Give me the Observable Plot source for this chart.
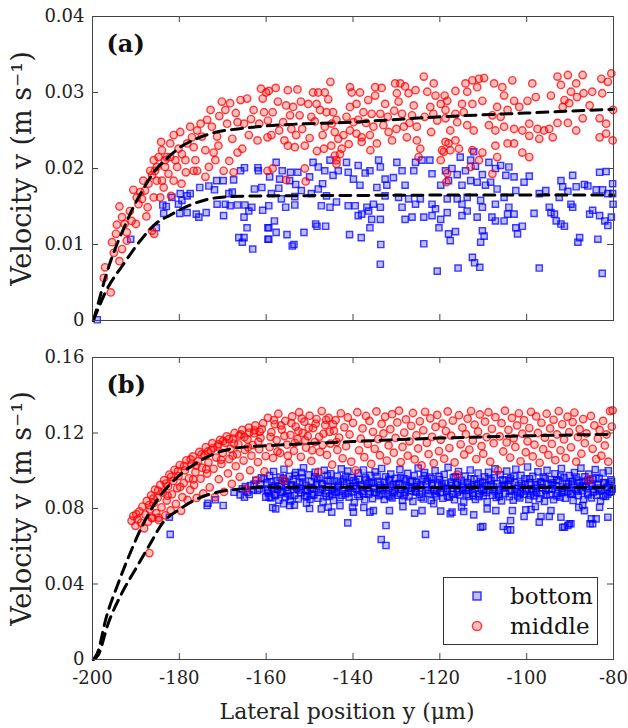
<!DOCTYPE html>
<html><head><meta charset="utf-8">
<script src="https://cdn.jsdelivr.net/npm/d3@7"></script>
<script src="https://cdn.jsdelivr.net/npm/@observablehq/plot@0.6"></script>
<style>
body{margin:0;background:#fff;}
#wrap{position:relative;width:628px;height:728px;}
#wrap > svg{position:absolute;left:0;}
</style></head><body><div id="wrap"></div>
<script>
// ---- ticks ----
const xTicks = [-200,-180,-160,-140,-120,-100,-80];
const yTicksA = [0,0.01,0.02,0.03,0.04];
const yTicksB = [0,0.04,0.08,0.12,0.16];
const seriesNames = ["bottom","middle"];

// ---- panel (a): flat [x (um), v (1e-3 m/s)] pairs ----
const aBottom = [
-198.9,0.1,-191.2,10.7,-185.3,12.2,-183.6,14.1,-183.0,15.0,-183.8,15.2,-181.7,16.2,-179.8,16.7,-179.4,15.8,-178.2,16.4,-177.5,16.7,-180.2,15.3,-179.9,14.1,-178.2,14.2,-176.1,14.0,-175.5,13.6,-175.3,17.5,-173.8,14.2,-173.2,17.7,-171.9,17.2,-171.4,18.4,-171.3,15.3,-169.9,18.4,-169.8,13.8,-169.4,15.3,-168.6,16.7,-167.8,16.9,-167.5,18.5,-168.3,15.1,-166.6,15.2,-166.3,10.9,-165.5,10.3,-165.1,10.9,-165.0,20.1,-165.9,19.7,-164.9,15.2,-164.4,12.2,-165.1,13.6,-163.1,9.4,-164.0,14.4,-163.3,14.9,-162.7,17.3,-161.9,20.1,-161.8,19.7,-161.0,17.5,-160.8,14.5,-159.6,12.2,-159.6,10.7,
-157.7,20.8,-156.3,19.7,-154.4,19.5,-152.7,19.5,-159.2,18.9,-156.9,18.6,-154.6,18.4,-153.2,17.9,-157.1,17.4,-151.9,17.1,-150.0,18.9,-149.2,20.8,-148.0,20.2,-147.0,18.0,-146.5,19.7,-145.3,21.1,-144.6,19.1,-143.4,19.7,-141.5,20.8,-141.1,19.5,-139.9,18.6,-138.8,20.4,-138.4,17.8,-137.2,19.4,-136.1,19.7,-134.1,21.1,-133.7,20.2,-132.6,18.6,-132.2,17.8,-134.5,17.5,-130.7,18.8,-129.9,20.8,-128.7,19.7,-128.0,17.8,-126.0,19.7,-125.6,20.8,-124.1,21.1,-122.3,21.1,-121.8,19.3,-119.8,17.8,
-158.8,16.7,-156.5,16.0,-153.4,16.3,-149.6,16.7,-148.0,17.3,-146.1,16.4,-147.3,15.1,-145.3,14.9,-143.8,15.6,-141.1,15.1,-139.5,15.1,-136.8,14.9,-135.3,15.3,-133.7,14.9,-132.6,16.4,-129.5,16.2,-128.7,14.9,-127.2,16.0,-125.6,15.3,-124.5,16.0,-121.8,15.3,-121.0,14.7,-159.4,15.1,-153.4,15.2,-155.5,14.9,-138.8,13.8,-138.0,14.0,-136.4,14.4,-135.7,13.3,-136.1,12.2,-133.7,13.3,-128.0,13.3,-126.4,13.6,-123.7,13.6,-121.8,13.8,-119.8,13.3,
-158.1,13.1,-159.4,12.2,-157.7,11.6,-159.4,10.7,-155.2,11.3,-151.3,11.6,-148.6,12.7,-148.3,12.4,-146.3,12.4,-140.8,11.3,-138.1,10.9,-133.6,10.0,-154.0,9.8,-153.6,10.0,-133.7,7.4,-123.7,10.1,-120.2,12.2,-120.6,6.5,
-118.7,19.7,-117.2,20.0,-115.3,21.5,-112.2,22.2,-112.9,21.1,-114.1,19.7,-116.0,19.2,-111.8,20.3,-110.2,19.2,-108.7,20.8,-107.2,20.0,-106.0,20.4,-104.1,20.2,-104.8,19.1,-102.9,18.9,-99.4,19.0,-100.6,18.2,-118.0,18.4,-114.9,17.8,-112.9,18.4,-111.4,18.2,-109.5,17.8,-108.3,18.2,-106.8,17.3,-102.5,17.1,
-118.3,16.0,-116.0,16.0,-113.7,16.2,-110.6,15.8,-107.2,15.3,-105.2,16.2,-104.1,14.9,-114.9,15.3,-110.2,14.9,-118.3,14.2,-114.9,13.8,-113.7,14.4,-111.4,13.6,-108.0,13.6,-107.2,13.1,-105.2,13.1,-104.4,14.0,-102.9,14.0,-102.5,12.2,-101.0,12.4,-102.1,11.4,-118.0,11.4,-116.4,11.7,-117.6,10.5,-110.2,11.8,-109.8,11.1,-110.6,10.3,-112.5,8.3,-112.0,7.6,-110.8,7.0,-115.8,6.9,-97.1,6.9,
-98.3,14.1,-97.1,16.7,-95.6,17.1,-94.8,14.9,-94.4,14.2,-93.6,14.0,-93.2,13.1,-92.1,12.7,-91.3,12.4,-92.5,16.2,-92.1,18.4,-91.7,17.6,-90.5,17.0,-89.8,15.3,-89.4,19.1,-88.6,17.6,-89.4,14.9,-88.2,10.3,-87.8,10.9,-86.7,17.9,-85.9,17.7,-85.5,14.0,-84.8,14.5,-84.0,17.2,-83.6,10.7,-83.2,19.5,-81.7,19.6,-82.5,17.2,-81.3,16.7,-83.2,13.8,-82.0,13.1,-81.3,12.5,-80.5,13.6,-80.1,15.3,-80.2,16.7,-80.2,18.0,-82.6,6.2
];
const aMiddle = [
-195.8,3.7,-197.4,5.6,-197.1,7.0,-195.5,10.3,-194.6,11.4,-195.1,8.9,-193.8,7.8,-193.2,9.4,-194.4,12.6,-193.2,13.6,-193.8,15.0,-192.6,12.7,-192.1,11.6,-191.4,14.4,-191.0,13.1,-190.0,12.7,-190.6,17.2,-189.0,16.9,-189.4,15.3,-188.3,18.4,-187.6,13.7,-187.3,14.9,-186.3,11.8,-185.8,11.4,-186.7,19.7,-185.9,21.1,-185.2,20.2,-184.8,21.5,-184.2,23.5,-184.0,18.4,-184.4,16.2,-183.6,17.5,-182.9,21.5,-182.1,23.3,-181.3,24.4,-180.5,20.2,-181.3,18.4,-181.9,16.4,-179.8,24.8,-179.4,21.9,-178.2,23.3,-177.5,25.5,-176.7,22.8,-176.3,21.1,-175.9,19.7,-175.1,25.9,-174.8,24.2,-174.0,22.4,-173.6,26.4,-173.2,20.2,-172.8,27.7,-172.5,25.5,-172.1,22.1,-171.7,21.1,-174.0,18.9,-171.3,24.2,-170.2,28.8,-169.8,19.7,-169.4,27.7,-169.0,25.9,-168.3,28.6,-167.8,23.9,-167.5,19.5,-166.6,26.1,-166.6,22.1,-165.9,29.0,-165.5,22.6,-165.1,25.9,-164.4,29.2,-164.0,24.4,-162.9,27.7,-162.0,23.7,-161.6,25.9,-161.2,30.5,-160.8,29.2,-160.5,27.4,-160.0,30.0,-159.7,19.7,-159.7,24.1,
-187.9,17.1,-187.1,18.0,-186.3,19.1,-185.6,19.7,-183.3,20.2,-182.5,19.3,-185.2,18.4,-180.2,22.6,-178.6,21.1,-177.1,24.1,-175.9,25.0,-176.7,19.7,-184.0,22.4,-183.3,21.1,-182.1,21.5,-180.9,21.1,-189.8,16.2,-188.6,16.0,-185.9,16.2,-192.1,10.5,-170.8,26.9,-167.0,27.3,-163.5,26.5,-171.0,23.0,-168.5,21.0,-178.5,19.5,-179.5,18.0,
-159.4,30.2,-155.0,30.3,-152.8,30.4,-157.3,28.8,-155.4,28.3,-153.8,28.1,-152.3,27.0,-158.5,27.4,-159.6,26.3,-156.1,26.1,-154.2,25.2,-158.8,24.4,-155.8,23.7,-155.0,23.0,-153.4,22.8,-151.1,23.0,-153.1,24.4,-151.7,25.2,-150.3,28.5,-149.2,30.0,-148.4,28.5,-148.0,30.0,-146.5,30.0,-145.7,29.1,-145.2,31.4,-149.6,26.8,-147.6,27.7,-146.1,27.4,-144.6,27.4,-146.5,25.5,-144.9,25.9,-143.8,26.4,-144.2,24.8,-143.4,23.9,-142.2,24.4,-142.6,22.6,-143.0,21.9,-144.2,21.7,-143.8,21.1,-148.3,22.3,-146.7,22.6,-140.7,30.7,-140.3,30.0,-139.2,28.5,-138.4,30.0,-140.7,28.1,-141.5,26.8,-139.9,26.1,-138.8,26.4,-137.6,27.4,-140.7,25.0,-139.2,24.6,-138.0,24.1,-138.0,23.5,-136.1,24.4,-135.3,25.5,-135.7,27.2,-134.9,30.7,-133.4,30.6,-134.5,23.3,-134.9,29.6,-133.7,27.2,-133.0,25.7,-132.6,28.5,-131.8,24.8,-131.0,23.7,-130.3,31.2,-129.1,31.2,-129.9,29.9,-129.5,28.8,-128.7,27.2,-128.3,25.5,-127.6,24.1,-127.2,29.9,-126.0,28.3,-125.6,30.3,-126.4,27.0,-125.3,25.5,-125.3,23.7,-124.5,22.6,-124.9,21.5,-123.7,32.1,-122.9,30.1,-122.2,28.1,-121.4,31.2,-121.0,29.6,-120.6,26.3,-119.8,28.5,-119.5,22.4,-119.8,21.1,-118.7,23.5,-158.5,20.0,-155.4,18.5,-150.9,18.3,-151.1,20.0,-143.8,20.6,
-157.0,25.0,-150.0,24.0,-147.0,24.4,-145.0,23.0,-141.0,23.2,-137.0,26.0,-136.5,29.0,-132.0,26.8,-130.5,27.6,-128.0,30.8,-127.0,26.0,-123.5,26.8,-122.0,24.8,-121.5,27.2,-136.0,22.4,-130.0,25.2,-154.5,27.0,-152.0,28.8,-157.8,30.6,-148.8,26.2,
-118.9,29.6,-118.3,28.9,-116.4,30.2,-114.1,31.2,-112.5,31.6,-111.4,30.7,-109.8,31.9,-113.7,30.1,-111.0,31.8,-114.9,28.5,-112.5,28.5,-110.2,28.9,-118.7,27.7,-118.7,26.6,-116.4,27.2,-114.5,27.4,-116.0,26.1,-113.7,25.7,-112.2,25.0,-117.6,25.0,-116.4,23.7,-118.0,23.3,-115.6,22.6,-117.6,22.4,-119.1,22.2,-112.5,22.4,-110.2,22.1,-111.0,21.1,-112.9,20.2,-106.8,21.5,-107.5,31.2,-105.6,30.7,-103.3,31.6,-105.2,29.6,-102.9,28.9,-106.8,28.1,-107.9,27.0,-106.0,26.8,-104.4,27.7,-101.7,28.1,-99.8,28.9,-98.7,31.2,-97.9,29.4,-108.7,25.7,-107.2,25.0,-105.2,25.5,-102.9,25.2,-101.0,25.0,-99.4,25.9,-97.5,25.2,-96.0,25.0,-94.8,25.2,-107.2,23.0,-104.4,23.3,-102.9,23.3,-99.4,24.3,-97.1,23.9,-94.0,24.1,-101.0,22.1,-99.4,21.5,-94.4,29.6,-92.9,32.1,-92.1,31.0,-90.5,32.3,-89.8,30.1,-88.6,31.2,-87.1,32.3,-91.7,28.1,-90.2,28.6,-88.4,29.4,-86.9,29.9,-84.9,30.1,-82.6,29.9,-92.9,26.0,-90.5,26.0,-88.6,25.0,-87.1,26.6,-85.5,28.3,-83.2,26.6,-81.7,25.9,-83.2,24.1,-81.7,24.6,-80.2,23.7,-82.8,31.8,-81.3,31.4,-80.5,32.5,-80.1,27.7,-91.3,29.0,-118.5,18.2,-107.9,19.3,-118.3,19.4
];
// fitted curves (dashed)
const aBottomFit = [-199.8,0,-196.5,4.3,-193,7.3,-189,10.5,-185.5,12.7,-182,13.9,-177.5,15.2,-173,16.0,-168,16.3,-160,16.4,-140,16.45,-120,16.5,-100,16.5,-80,16.5];
const aMiddleFit = [-199.8,0,-198.9,1.8,-196.8,6.1,-194.8,9.4,-192.9,12.0,-190.6,14.9,-188.3,17.3,-185.9,19.5,-182.9,21.3,-179.8,22.8,-176.1,23.9,-171.4,24.8,-166.6,25.2,-160,25.6,-140,26.1,-120,26.8,-100,27.3,-80,27.8];

// ---- panel (b) ----
const bBottom = [
-182.3,75.4,-182.1,66.3,-173.6,81.6,-173.4,82.8,-171.7,84.6,-169.9,81.6,-167.4,88.6,-165.5,90.4,-164.3,88.6,-163.9,87.4,-163.6,92.2,-162.8,93.0,-162.0,89.5,-161.6,90.4,-161.1,96.2,-160.5,95.7,-160.1,86.0,-159.8,89.5,-166.0,87.2,-164.8,91.6,-162.4,95.0,-161.3,92.8,-163.0,89.8,-165.0,86.0,
-157.8,79.8,-156.0,82.5,-154.6,81.6,-153.5,81.8,-150.7,82.8,-147.3,79.8,-144.9,78.1,-145.7,80.7,-140.1,80.7,-139.9,78.1,-141.2,72.4,-136.1,78.1,-135.3,78.9,-132.4,71.0,-133.5,63.6,-132.4,60.4,-131.6,78.9,-125.8,77.5,-124.1,78.9,-123.3,66.3,-119.8,78.6,-121.4,82.5,-117.6,77.2,-117.2,78.1,-114.5,78.4,-112.2,76.6,-110.1,70.5,-109.1,79.8,-107.1,78.9,-105.4,70.5,-103.7,68.7,-103.7,73.6,-103.3,78.9,-100.6,75.8,-100.2,79.3,-99.0,79.5,-97.1,72.8,-96.7,75.8,-94.8,75.8,-94.4,78.9,-92.1,75.4,-91.3,70.1,-90.5,71.0,-89.8,71.9,-87.1,81.6,-86.7,78.9,-85.1,74.5,-84.8,71.9,-84.0,74.5,-83.2,80.7,-81.3,75.4,-110.6,70.1,-104.4,68.7,-91.7,70.1,-90.2,71.9,-85.4,71.9,-158.5,80.5,-150.0,80.0,-128.5,81.0,-115.0,80.8,-98.0,81.0,-88.0,80.6,-143.0,81.5,-137.5,80.5,
-159.8,93.6,-159.5,88.2,-159.2,97.4,-158.9,85.6,-158.6,91.0,-158.3,99.6,-158.0,87.4,-157.7,94.8,-157.4,90.2,-157.1,84.4,-156.8,96.6,-156.5,92.4,-156.2,88.8,-155.9,100.8,-155.6,86.2,-155.3,93.0,-155.0,89.6,-154.7,97.0,-154.4,84.0,-154.1,91.8,-153.8,95.4,-153.5,87.0,-153.2,99.0,-152.9,90.6,-152.6,85.0,-152.3,93.8,-152.0,88.4,-151.7,96.2,-151.4,101.6,-151.1,86.8,-150.8,92.2,-150.5,89.2,-150.2,97.8,
-149.9,84.8,-149.6,94.2,-149.3,90.8,-149.0,87.2,-148.7,99.2,-148.4,92.8,-148.1,85.4,-147.8,96.0,-147.5,89.8,-147.2,93.4,-146.9,83.6,-146.6,100.2,-146.3,88.0,-146.0,95.0,-145.7,91.4,-145.4,86.6,-145.1,98.4,-144.8,90.0,-144.5,84.2,-144.2,94.6,-143.9,88.6,-143.6,97.2,-143.3,92.0,-143.0,85.8,-142.7,101.0,-142.4,89.4,-142.1,95.6,-141.8,87.8,-141.5,93.2,-141.2,99.8,-140.9,86.0,-140.6,91.6,-140.3,96.4,
-140.0,88.8,-139.7,83.2,-139.4,94.0,-139.1,90.4,-138.8,98.8,-138.5,86.4,-138.2,92.6,-137.9,89.0,-137.6,100.4,-137.3,84.6,-137.0,95.2,-136.7,91.2,-136.4,87.6,-136.1,97.6,-135.8,93.6,-135.5,85.2,-135.2,90.8,-134.9,99.4,-134.6,88.2,-134.3,94.4,-134.0,86.8,-133.7,92.4,-133.4,101.2,-133.1,89.6,-132.8,84.8,-132.5,96.8,-132.2,91.0,-131.9,87.2,-131.6,94.8,-131.3,98.2,-131.0,85.6,-130.7,92.8,-130.4,89.4,
-130.1,96.0,-129.8,87.0,-129.5,93.2,-129.2,100.6,-128.9,90.2,-128.6,84.4,-128.3,95.8,-128.0,88.6,-127.7,92.0,-127.4,98.6,-127.1,86.2,-126.8,94.2,-126.5,90.6,-126.2,83.8,-125.9,97.4,-125.6,89.2,-125.3,93.8,-125.0,101.4,-124.7,87.4,-124.4,91.4,-124.1,95.4,-123.8,85.0,-123.5,99.0,-123.2,90.0,-122.9,94.6,-122.6,88.0,-122.3,96.6,-122.0,84.2,-121.7,92.2,-121.4,89.8,-121.1,100.0,-120.8,86.6,-120.5,93.0,-120.2,97.0,
-119.9,88.4,-119.6,91.8,-119.3,85.4,-119.0,98.0,-118.7,93.4,-118.4,89.0,-118.1,101.8,-117.8,86.0,-117.5,94.0,-117.2,90.6,-116.9,96.4,-116.6,84.6,-116.3,92.6,-116.0,88.6,-115.7,99.6,-115.4,87.2,-115.1,95.0,-114.8,91.0,-114.5,83.4,-114.2,97.2,-113.9,89.6,-113.6,93.6,-113.3,86.4,-113.0,100.4,-112.7,91.6,-112.4,88.2,-112.1,95.6,-111.8,84.8,-111.5,92.4,-111.2,98.8,-110.9,87.8,-110.6,94.4,-110.3,90.2,
-110.0,86.8,-109.7,96.8,-109.4,92.0,-109.1,83.6,-108.8,99.2,-108.5,89.4,-108.2,94.8,-107.9,87.0,-107.6,91.4,-107.3,101.0,-107.0,85.8,-106.7,93.2,-106.4,89.8,-106.1,97.8,-105.8,84.0,-105.5,95.2,-105.2,90.8,-104.9,88.0,-104.6,99.8,-104.3,92.8,-104.0,86.2,-103.7,96.0,-103.4,90.0,-103.1,84.4,-102.8,94.0,-102.5,100.8,-102.2,88.8,-101.9,92.2,-101.6,85.6,-101.3,97.6,-101.0,91.2,-100.7,87.4,-100.4,95.8,
-100.1,89.2,-99.8,102.0,-99.5,84.8,-99.2,93.6,-98.9,90.4,-98.6,97.0,-98.3,86.6,-98.0,92.8,-97.7,88.4,-97.4,99.4,-97.1,85.2,-96.8,94.2,-96.5,91.0,-96.2,96.6,-95.9,83.8,-95.6,89.6,-95.3,100.2,-95.0,93.0,-94.7,87.2,-94.4,95.4,-94.1,90.6,-93.8,84.6,-93.5,98.4,-93.2,92.0,-92.9,88.0,-92.6,94.8,-92.3,86.0,-92.0,101.2,-91.7,90.8,-91.4,96.2,-91.1,85.4,-90.8,93.4,-90.5,89.0,
-90.2,97.4,-89.9,87.6,-89.6,92.6,-89.3,84.2,-89.0,99.0,-88.7,90.2,-88.4,95.0,-88.1,86.8,-87.8,93.8,-87.5,101.4,-87.2,89.4,-86.9,84.8,-86.6,96.8,-86.3,91.6,-86.0,88.2,-85.7,98.2,-85.4,93.0,-85.1,85.6,-84.8,95.6,-84.5,90.0,-84.2,100.6,-83.9,87.0,-83.6,92.4,-83.3,96.0,-83.0,84.0,-82.7,89.8,-82.4,98.8,-82.1,93.6,-81.8,86.4,-81.5,91.2,-81.2,100.0,-80.9,88.6,-80.6,95.2,-80.3,90.4,
-159.65,90.0,-158.75,94.2,-157.85,86.8,-156.95,91.6,-156.05,96.0,-155.15,88.0,-154.25,92.6,-153.35,97.6,-152.45,89.8,-151.55,94.0,-150.65,86.4,-149.75,91.2,-148.85,96.8,-147.95,88.6,-147.05,92.8,-146.15,86.2,-145.25,94.6,-144.35,89.0,-143.45,93.0,-142.55,87.0,-141.65,97.0,-140.75,90.6,-139.85,94.8,-138.95,87.4,-138.05,91.6,-137.15,96.2,-136.25,89.0,-135.35,93.4,-134.45,97.0,-133.55,87.6,-132.65,91.2,-131.75,95.6,-130.85,88.4,-129.95,92.4,-129.05,96.4,-128.15,86.8,-127.25,90.8,-126.35,94.8,-125.45,88.6,-124.55,92.8,-123.65,97.4,-122.75,89.4,-121.85,93.4,-120.95,87.8,-120.05,95.4,-119.15,90.8,-118.25,86.4,-117.35,92.2,-116.45,96.8,-115.55,89.4,-114.65,93.0,-113.75,87.4,-112.85,95.8,-111.95,90.6,-111.05,86.2,-110.15,93.8,-109.25,88.4,-108.35,92.6,-107.45,96.4,-106.55,87.6,-105.65,91.8,-104.75,95.0,-103.85,89.2,-102.95,97.0,-102.05,86.6,-101.15,93.4,-100.25,90.0,-99.35,95.8,-98.45,88.8,-97.55,92.4,-96.65,87.8,-95.75,96.0,-94.85,90.2,-93.95,93.6,-93.05,86.8,-92.15,97.2,-91.25,89.6,-90.35,93.2,-89.45,88.0,-88.55,96.6,-87.65,91.0,-86.75,94.4,-85.85,87.2,-84.95,92.0,-84.05,96.2,-83.15,89.2,-82.25,93.8,-81.35,87.6,-80.45,94.2,
-159.3,86.0,-158.1,92.0,-156.7,88.4,-155.7,94.4,-154.5,86.6,-153.1,91.4,-151.9,99.0,-150.9,90.0,-149.5,87.0,-148.3,95.2,-147.1,90.4,-145.9,97.6,-144.7,87.6,-143.5,91.0,-142.3,94.4,-141.1,88.2,-139.9,92.0,-138.7,95.4,-137.5,87.8,-136.3,93.6,-135.1,88.6,-133.9,90.6,-132.7,94.0,-131.5,86.4,-130.3,91.0,-129.1,88.0,-127.9,94.6,-126.7,89.4,-125.5,91.6,-124.3,86.0,-123.1,92.8,-121.9,95.8,-120.7,89.2,-119.5,93.0,-118.3,90.4,-117.1,87.6,-115.9,94.0,-114.7,89.8,-113.5,91.2,-112.3,86.8,-111.1,93.2,-109.9,89.6,-108.7,95.6,-107.5,90.0,-106.3,86.4,-105.1,92.4,-103.9,94.8,-102.7,90.4,-101.5,88.0,-100.3,93.0,-99.1,87.0,-97.9,90.8,-96.7,93.6,-95.5,87.4,-94.3,92.6,-93.1,95.2,-91.9,88.4,-90.7,91.4,-89.5,94.4,-88.3,89.2,-87.1,92.0,-85.9,95.0,-84.7,88.8,-83.5,90.8,-82.3,86.6,-81.1,93.0,-80.5,89.0
];
const bMiddle = [
-191.0,73.5,-190.6,76.0,-190.1,70.8,-189.6,74.2,-189.2,78.5,-188.8,72.4,-188.5,81.0,-188.1,69.5,-187.8,76.8,-187.5,84.0,-187.2,73.0,-186.9,56.4,-186.8,79.5,-186.5,87.0,-186.2,75.2,-185.9,82.8,-185.6,90.0,-185.3,77.5,-185.0,85.6,-184.7,73.8,-184.4,92.5,-184.1,80.6,-183.8,88.4,-183.5,95.0,-183.2,76.4,-182.9,84.2,-182.6,91.8,-182.3,98.0,-182.0,79.0,-181.7,87.5,-181.4,94.6,-181.1,100.5,-180.8,82.5,-180.5,90.7,-180.2,97.2,-179.9,103.0,-179.6,78.8,-179.3,86.0,-179.0,93.5,-178.7,100.2,-178.4,105.5,-178.1,84.5,-177.8,96.0,-177.5,89.8,-177.2,103.4,-176.9,107.6,-176.6,92.4,-176.3,99.2,-176.0,85.6,-175.7,105.0,-175.4,110.0,-175.1,95.8,-174.8,101.6,-174.5,88.0,-174.2,108.2,-173.9,112.5,-173.6,98.5,-173.3,104.4,-173.0,91.2,-172.7,110.8,-172.4,114.6,-172.1,101.0,-171.8,86.0,-171.5,107.0,-171.2,112.8,-170.9,95.5,-170.6,116.4,-170.3,103.6,-170.0,109.4,-169.7,88.8,-169.4,114.8,-169.1,118.2,-168.8,98.6,-168.5,106.2,-168.2,111.6,-167.9,93.0,-167.6,117.0,-167.3,120.0,-167.0,102.4,-166.7,108.8,-166.4,114.0,-166.1,96.8,-165.8,119.2,-165.5,121.6,-165.2,105.4,-164.9,111.0,-164.6,90.5,-164.3,116.6,-164.0,122.8,-163.7,100.2,-163.4,108.0,-163.1,113.6,-162.8,119.8,-162.5,124.0,-162.2,95.0,-161.9,104.6,-161.6,111.4,-161.3,117.4,-161.0,122.0,-160.7,125.2,-160.4,99.6,-160.1,107.8,
-184.9,89.5,-183.1,93.2,-181.9,96.8,-180.3,99.8,-178.9,102.6,-177.4,106.0,-176.1,102.8,-174.9,108.6,-173.4,110.2,-172.2,112.0,-171.0,114.0,-169.9,115.8,-168.6,116.8,-167.4,114.4,-166.2,118.6,-165.0,117.8,-163.9,120.2,-162.7,121.4,-161.5,120.6,-186.0,85.2,-187.0,81.8,-189.9,77.0,-182.7,86.8,-179.8,91.4,-176.8,95.4,-173.8,100.8,-170.4,105.8,-167.7,108.0,-164.2,112.4,-161.8,115.4,-186.3,74.9,-184.8,75.1,
-159.6,128.0,-159.2,112.5,-158.8,120.4,-158.4,106.8,-158.0,124.6,-157.6,116.2,-157.2,130.2,-156.8,109.4,-156.4,121.8,-156.0,95.0,-155.6,126.4,-155.2,113.8,-154.8,104.2,-154.4,119.0,-154.0,128.8,-153.6,110.6,-153.2,123.4,-152.8,116.8,-152.4,131.0,-152.0,107.4,-151.6,120.0,-151.2,126.0,-150.8,112.2,-150.4,118.4,-150.0,129.2,-149.6,105.2,-149.2,122.6,-148.8,115.2,-148.4,127.4,-148.0,99.4,-147.6,110.0,-147.2,131.6,-146.8,119.6,-146.4,124.2,-146.0,108.4,-145.6,128.0,-145.2,114.4,-144.8,103.2,-144.4,121.2,-144.0,126.8,-143.6,111.0,-143.2,117.6,-142.8,130.4,-142.4,106.6,-142.0,123.0,-141.6,113.0,-141.2,128.2,-140.8,119.2,-140.4,104.8,-140.0,125.4,-139.4,100.2,-139.0,131.0,-138.6,110.8,-138.2,117.0,-137.8,122.4,-137.4,107.2,-137.0,129.0,-136.6,114.2,-136.2,126.4,-135.8,103.6,-135.4,120.6,-135.0,111.6,-134.6,131.4,-134.2,116.8,-133.8,108.2,-133.4,124.8,-133.0,119.8,-132.6,128.6,-132.2,105.4,-131.8,113.4,-131.4,122.0,-131.0,130.0,-130.6,109.6,-130.2,117.4,-129.8,125.6,-129.4,131.8,-129.0,104.6,-128.6,112.6,-128.2,120.2,-127.8,127.2,-127.4,108.0,-127.0,115.6,-126.6,123.8,-126.2,130.6,-125.8,106.0,-125.4,118.8,-125.0,111.8,-124.6,126.2,-124.2,102.8,-123.8,121.4,-123.4,131.2,-123.0,114.8,-122.6,108.8,-122.2,127.8,-121.8,118.0,-121.4,104.0,-121.0,123.2,-120.6,129.6,-120.2,110.4,-119.8,116.4,-119.4,125.0,-119.0,106.4,-118.6,121.0,-118.2,131.4,-117.8,112.0,-117.4,118.6,-117.0,126.6,-116.6,104.4,-116.0,98.0,-115.6,129.4,-115.2,114.0,-114.8,122.8,-114.4,108.6,-114.0,119.4,-113.6,127.6,-113.2,111.2,-112.8,131.6,-112.4,116.0,-112.0,124.4,-111.6,106.2,-111.2,120.8,-110.8,129.8,-110.4,113.0,-110.0,109.0,-109.6,126.0,-109.2,117.8,-108.8,131.0,-108.4,104.8,-108.0,122.2,-107.6,114.6,-107.2,128.4,-106.6,100.2,-106.2,118.2,-105.8,125.2,-105.4,110.2,-105.0,131.8,-104.6,115.0,-104.2,121.6,-103.8,107.0,-103.4,128.0,-103.0,117.2,-102.6,112.6,-102.2,124.0,-101.8,130.4,-101.4,105.0,-101.0,119.6,-100.6,126.8,-100.2,109.8,-99.8,115.6,-99.4,122.6,-99.0,131.2,-98.6,107.6,-98.2,113.8,-97.8,128.8,-97.4,120.0,-97.0,104.2,-96.6,125.4,-96.2,111.4,-95.8,117.6,-95.4,130.2,-95.0,108.4,-94.6,122.4,-94.2,114.2,-93.8,127.0,-93.4,105.6,-93.0,119.2,-92.6,131.6,-92.2,110.8,-91.8,124.6,-91.4,116.6,-91.0,106.8,-90.6,128.6,-90.2,120.4,-89.8,112.4,-89.4,125.8,-89.0,130.8,-88.6,104.8,-88.2,117.8,-87.8,122.0,-87.4,109.0,-87.0,127.4,-86.6,114.6,-86.2,119.8,-85.6,95.4,-85.2,129.0,-84.8,111.6,-84.4,124.0,-84.0,106.2,-83.6,117.0,-83.2,121.6,-82.8,108.0,-82.4,126.4,-82.0,113.4,-81.6,119.2,-81.2,104.8,-80.8,131.6,-80.4,123.4,-80.2,132.0,
-159.0,118.0,-158.2,126.8,-157.4,110.2,-156.6,124.0,-155.8,118.4,-155.0,108.0,-154.2,125.2,-153.4,114.8,-152.6,121.0,-151.8,127.6,-151.0,116.0,-150.2,122.8,-149.4,110.8,-148.6,125.0,-147.8,118.0,-147.0,113.6,-146.2,127.0,-145.4,120.6,-144.6,124.6,-143.8,115.2
];
const bBottomFit = [-199.8,0,-198.7,2.3,-196.4,19,-193.3,34.9,-189.8,49,-186.7,61.3,-184.0,71.9,-179.8,79.8,-175.9,85.1,-171.3,88.6,-165.9,90.4,-160.5,91.2,-140,91.2,-120,91.1,-100,91.1,-80,91.1];
const bMiddleFit = [-199.8,0,-198.9,3.2,-196.8,22.6,-194.4,38.4,-191.7,54.3,-188.3,71.9,-185.2,84.2,-180.5,96.5,-175.1,105.4,-169.7,110.7,-163.6,112.8,-159.7,113.3,-140,115.5,-120,117.3,-100,118.5,-80,119.3];

function pairs(flat){const out=[];for(let i=0;i<flat.length;i+=2)out.push({x:flat[i],v:flat[i+1]/1000});return out;}
const fmtY = d => d===0 ? "0" : d.toFixed(2);
const FONT = '"DejaVu Serif", serif';

function panel({height, marginTop, marginBottom, yDomain, yTicks, bottom, middle, bottomFit, middleFit, tag, showX}){
  const marginLeft=92, marginRight=15, width=628;
  const fh = height - marginTop - marginBottom, fw = width - marginLeft - marginRight;
  const tickColor="#444";
  const marks = [
    Plot.dot(pairs(bottom), {x:"x", y:"v", symbol:"square", r:3.5, stroke:"#0000ff", strokeOpacity:0.75, fill:"#0000ff", fillOpacity:0.25, strokeWidth:1.4}),
    Plot.dot(pairs(middle), {x:"x", y:"v", r:3.7, stroke:"#ff0000", strokeOpacity:0.75, fill:"#ff0000", fillOpacity:0.25, strokeWidth:1.4}),
    Plot.line(pairs(bottomFit), {x:"x", y:"v", curve:"monotone-x", stroke:"black", strokeWidth:3, strokeDasharray:"11,7"}),
    Plot.line(pairs(middleFit), {x:"x", y:"v", curve:"monotone-x", stroke:"black", strokeWidth:3, strokeDasharray:"11,7"}),
    Plot.frame({stroke:tickColor, strokeWidth:1}),
    Plot.tickX(xTicks, {x:d=>d, insetBottom:fh-6, stroke:tickColor}),
    Plot.tickX(xTicks, {x:d=>d, insetTop:fh-6, stroke:tickColor}),
    Plot.tickY(yTicks, {y:d=>d, insetRight:fw-6, stroke:tickColor}),
    Plot.tickY(yTicks, {y:d=>d, insetLeft:fw-6, stroke:tickColor}),
    Plot.axisY({ticks:yTicks, tickSize:0, tickPadding:8, tickFormat:fmtY, label:null, fill:"#222", fontSize:18}),
    Plot.text([tag], {text:d=>d, frameAnchor:"top-left", dx:14, dy:28, lineAnchor:"middle", textAnchor:"start", fontWeight:"bold", fontSize:24, fill:"#111"}),
    Plot.text(["Velocity v (m s\u207B\u00B9)"], {text:d=>d, frameAnchor:"left", dx:-70, rotate:-90, lineAnchor:"middle", textAnchor:"middle", fontSize:27, fill:"#222"})
  ];
  if (showX) {
    marks.push(Plot.axisX({ticks:xTicks, tickSize:0, tickPadding:12, tickFormat:d=>String(d), label:null, fill:"#222", fontSize:18}));
    marks.push(Plot.text(["Lateral position y (\u03BCm)"], {text:d=>d, frameAnchor:"bottom", dx:-6, dy:52, lineAnchor:"middle", textAnchor:"middle", fontSize:22, fill:"#222"}));
  }
  return Plot.plot({
    width, height, marginLeft, marginRight, marginTop, marginBottom,
    style:{fontFamily:FONT, fontSize:"18px", background:"white", overflow:"visible"},
    x:{domain:[-200,-80], axis:null},
    y:{domain:yDomain, axis:null},
    marks
  });
}

const wrap = document.getElementById("wrap");
const pa = panel({height:340, marginTop:16, marginBottom:20, yDomain:[0,0.04], yTicks:yTicksA, bottom:aBottom, middle:aMiddle, bottomFit:aBottomFit, middleFit:aMiddleFit, tag:"(a)", showX:false});
pa.style.top="0px";
const pb = panel({height:388, marginTop:17, marginBottom:69, yDomain:[0,0.16], yTicks:yTicksB, bottom:bBottom, middle:bMiddle, bottomFit:bBottomFit, middleFit:bMiddleFit, tag:"(b)", showX:true});
pb.style.top="340px";
wrap.appendChild(pa); wrap.appendChild(pb);

// legend (inside panel b, lower right)
const leg=d3.select(wrap).append("svg").attr("width",156).attr("height",69)
  .style("position","absolute").style("left","443px").style("top","577px");
leg.append("rect").attr("x",0.5).attr("y",0.5).attr("width",154).attr("height",67).attr("fill","white").attr("stroke","#333");
leg.append("rect").attr("x",30).attr("y",15).attr("width",8).attr("height",8)
  .attr("fill","#0000ff").attr("fill-opacity",0.25).attr("stroke","#0000ff").attr("stroke-opacity",0.75).attr("stroke-width",1.5);
leg.append("circle").attr("cx",34).attr("cy",49).attr("r",4.6)
  .attr("fill","#ff0000").attr("fill-opacity",0.25).attr("stroke","#ff0000").attr("stroke-opacity",0.75).attr("stroke-width",1.5);
leg.selectAll("text.lab").data(seriesNames).join("text").attr("class","lab")
  .attr("x",67).attr("y",(d,i)=>27+i*30).attr("font-family",FONT).attr("font-size",23).attr("fill","#111").text(d=>d);
</script></body></html>
